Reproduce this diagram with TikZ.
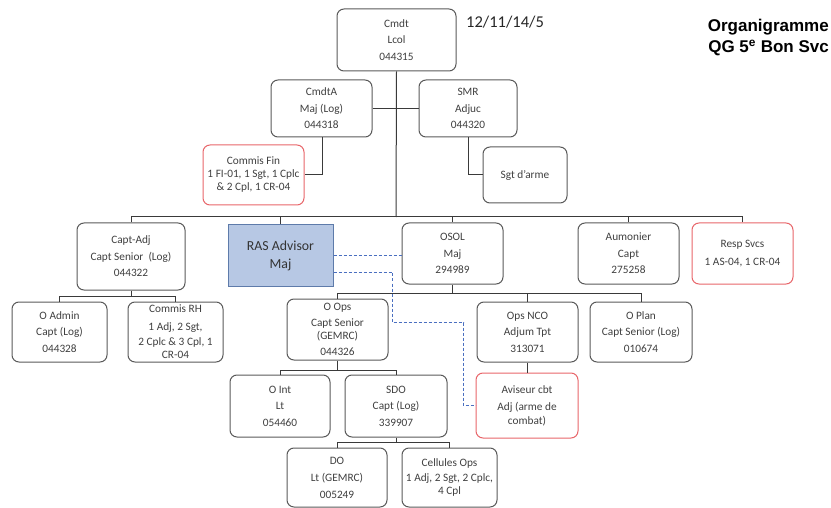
\documentclass[tikz,border=0pt]{standalone}
\usepackage{fontspec}
\setmainfont{Carlito}
\newfontfamily\titlefont{Liberation Sans}
\definecolor{boxgray}{HTML}{5A5A5A}
\definecolor{linegray}{HTML}{3A3A3A}
\definecolor{txt}{HTML}{404040}
\definecolor{boxred}{HTML}{E8666A}
\definecolor{rasfill}{HTML}{B7C8E4}
\definecolor{rasdraw}{HTML}{5E7BAA}
\definecolor{dashblue}{HTML}{4A6FC0}
\tikzset{
  box/.style={draw=boxgray, line width=1pt, rounded corners=7pt, fill=white, align=center,
    font=\fontsize{11.3}{13}\selectfont, text=txt, inner sep=1pt},
  redbox/.style={box, draw=boxred},
  rasbox/.style={box, rounded corners=0pt, fill=rasfill, draw=rasdraw,
    font=\fontsize{13.8}{18}\selectfont, text=black!80},
  conn/.style={draw=linegray, line width=1pt},
  dashlink/.style={draw=dashblue, line width=0.9pt, dash pattern=on 3pt off 2pt},
}
\newcommand\obox[7]{\node[#1, minimum width={(#4)-(#2)}, minimum height={(#5)-(#3)}] (#6) at ({((#2)+(#4))/2},{((#3)+(#5))/2}) {#7};}
\begin{document}
\begin{tikzpicture}[x=1pt,y=-1pt]
\useasboundingbox (0,0) rectangle (831,508);

% title and date
\node[anchor=base east, inner sep=0, font=\titlefont\bfseries\fontsize{17}{21}\selectfont] (title1) at (829,32) {Organigramme};
\node[anchor=base east, inner sep=0, font=\titlefont\bfseries\fontsize{17}{21}\selectfont] (title2) at (829,53) {QG 5\textsuperscript{e} Bon Svc};
\node[anchor=base west, inner sep=0, font=\fontsize{16.5}{18}\selectfont, text=black!85] (date) at (466,28) {12/11/14/5};

\coordinate (bus) at (396,217);

% boxes
\obox{box}{337}{9}{456}{71}{cmdt}{Cmdt\\[3.5pt]Lcol\\[3.5pt]044315}
\obox{box}{271}{80}{372}{137}{cmdta}{CmdtA\\[3.5pt]Maj (Log)\\[3.5pt]044318}
\obox{box}{419}{80}{517}{137}{smr}{SMR\\[3.5pt]Adjuc\\[3.5pt]044320}
\obox{redbox}{203}{145}{304}{205}{fin}{Commis Fin\\1 FI-01, 1 Sgt, 1 Cplc\\\& 2 Cpl, 1 CR-04}
\obox{box}{483}{147}{567}{203}{sgt}{Sgt d'arme}
\obox{box}{77}{223}{185}{290}{captadj}{Capt-Adj\\[3.5pt]Capt Senior\ \ (Log)\\[3.5pt]044322}
\obox{rasbox}{228}{225}{333}{286}{ras}{RAS Advisor\\Maj}
\obox{box}{402}{223}{503}{284}{osol}{OSOL\\[3.5pt]Maj\\[3.5pt]294989}
\obox{box}{578}{223}{679}{284}{aum}{Aumonier\\[3.5pt]Capt\\[3.5pt]275258}
\obox{redbox}{692}{223}{793}{284}{resp}{Resp Svcs\\[5pt]1 AS-04, 1 CR-04}
\obox{box}{12}{302}{107}{362}{oadmin}{O Admin\\[3.5pt]Capt (Log)\\[3.5pt]044328}
\obox{box}{128}{302}{223}{362}{rh}{Commis RH\\[5pt]1 Adj, 2 Sgt,\\[2pt]2 Cplc \& 3 Cpl, 1\\CR-04}
\obox{box}{287}{299}{388}{360}{oops}{O Ops\\[3pt]Capt Senior\\(GEMRC)\\[3pt]044326}
\obox{box}{477}{302}{578}{362}{opsnco}{Ops NCO\\[3.5pt]Adjum Tpt\\[3.5pt]313071}
\obox{box}{590}{302}{692}{362}{oplan}{O Plan\\[3.5pt]Capt Senior (Log)\\[3.5pt]010674}
\obox{box}{230}{375}{330}{437}{oint}{O Int\\[3.5pt]Lt\\[3.5pt]054460}
\obox{box}{345}{375}{447}{437}{sdo}{SDO\\[3.5pt]Capt (Log)\\[3.5pt]339907}
\obox{redbox}{476}{373}{578}{438}{aviseur}{Aviseur cbt\\[4pt]Adj (arme de\\[1pt]combat)}
\obox{box}{287}{448}{387}{507}{do}{DO\\[4pt]Lt (GEMRC)\\[4pt]005249}
\obox{box}{402}{448}{497}{507}{cell}{Cellules Ops\\[2pt]1 Adj, 2 Sgt, 2 Cplc,\\4 Cpl}

% top connectors
\draw[conn] (cmdt.south) -- (bus);
\draw[conn] (cmdta.east) -- (smr.west);
\draw[conn] (cmdta.south -| 322,0) |- (fin.east);
\draw[conn] (smr.south) |- (sgt.west);

% main bus
\draw[conn] (captadj.north |- bus) -- (resp.north |- bus);
\foreach \n in {captadj,ras,osol,aum,resp}{\draw[conn] (\n.north) -- (\n.north |- bus);}

% capt-adj group
\coordinate (busca) at (131,296);
\draw[conn] (captadj.south) -- (busca);
\draw[conn] (oadmin.north |- busca) -- (rh.north |- busca);
\draw[conn] (oadmin.north) -- (oadmin.north |- busca);
\draw[conn] (rh.north) -- (rh.north |- busca);

% osol group
\coordinate (busos) at (452.5,293);
\draw[conn] (osol.south) -- (busos);
\draw[conn] (oops.north |- busos) -- (oplan.north |- busos);
\foreach \n in {oops,opsnco,oplan}{\draw[conn] (\n.north) -- (\n.north |- busos);}

% o ops group
\coordinate (busop) at (337.5,370);
\draw[conn] (oops.south) -- (busop);
\draw[conn] (oint.north |- busop) -- (sdo.north |- busop);
\foreach \n in {oint,sdo}{\draw[conn] (\n.north) -- (\n.north |- busop);}

% sdo group
\coordinate (bussd) at (396,442);
\draw[conn] (sdo.south) -- (bussd);
\draw[conn] (do.north |- bussd) -- (cell.north |- bussd);
\foreach \n in {do,cell}{\draw[conn] (\n.north) -- (\n.north |- bussd);}

% ops nco to aviseur
\draw[conn] (opsnco.south) -- (aviseur.north -| opsnco.south);

% dashed advisory links
\coordinate (d0) at (333,255.5);
\draw[dashlink] (ras.east |- d0) -- (osol.west |- d0);
\coordinate (d1) at (392.5,272.5);
\coordinate (d2) at (463.5,322.5);
\draw[dashlink] (ras.east |- d1) -- (d1) -- (d1 |- d2) -- (d2) |- (aviseur.west);
\end{tikzpicture}
\end{document}
